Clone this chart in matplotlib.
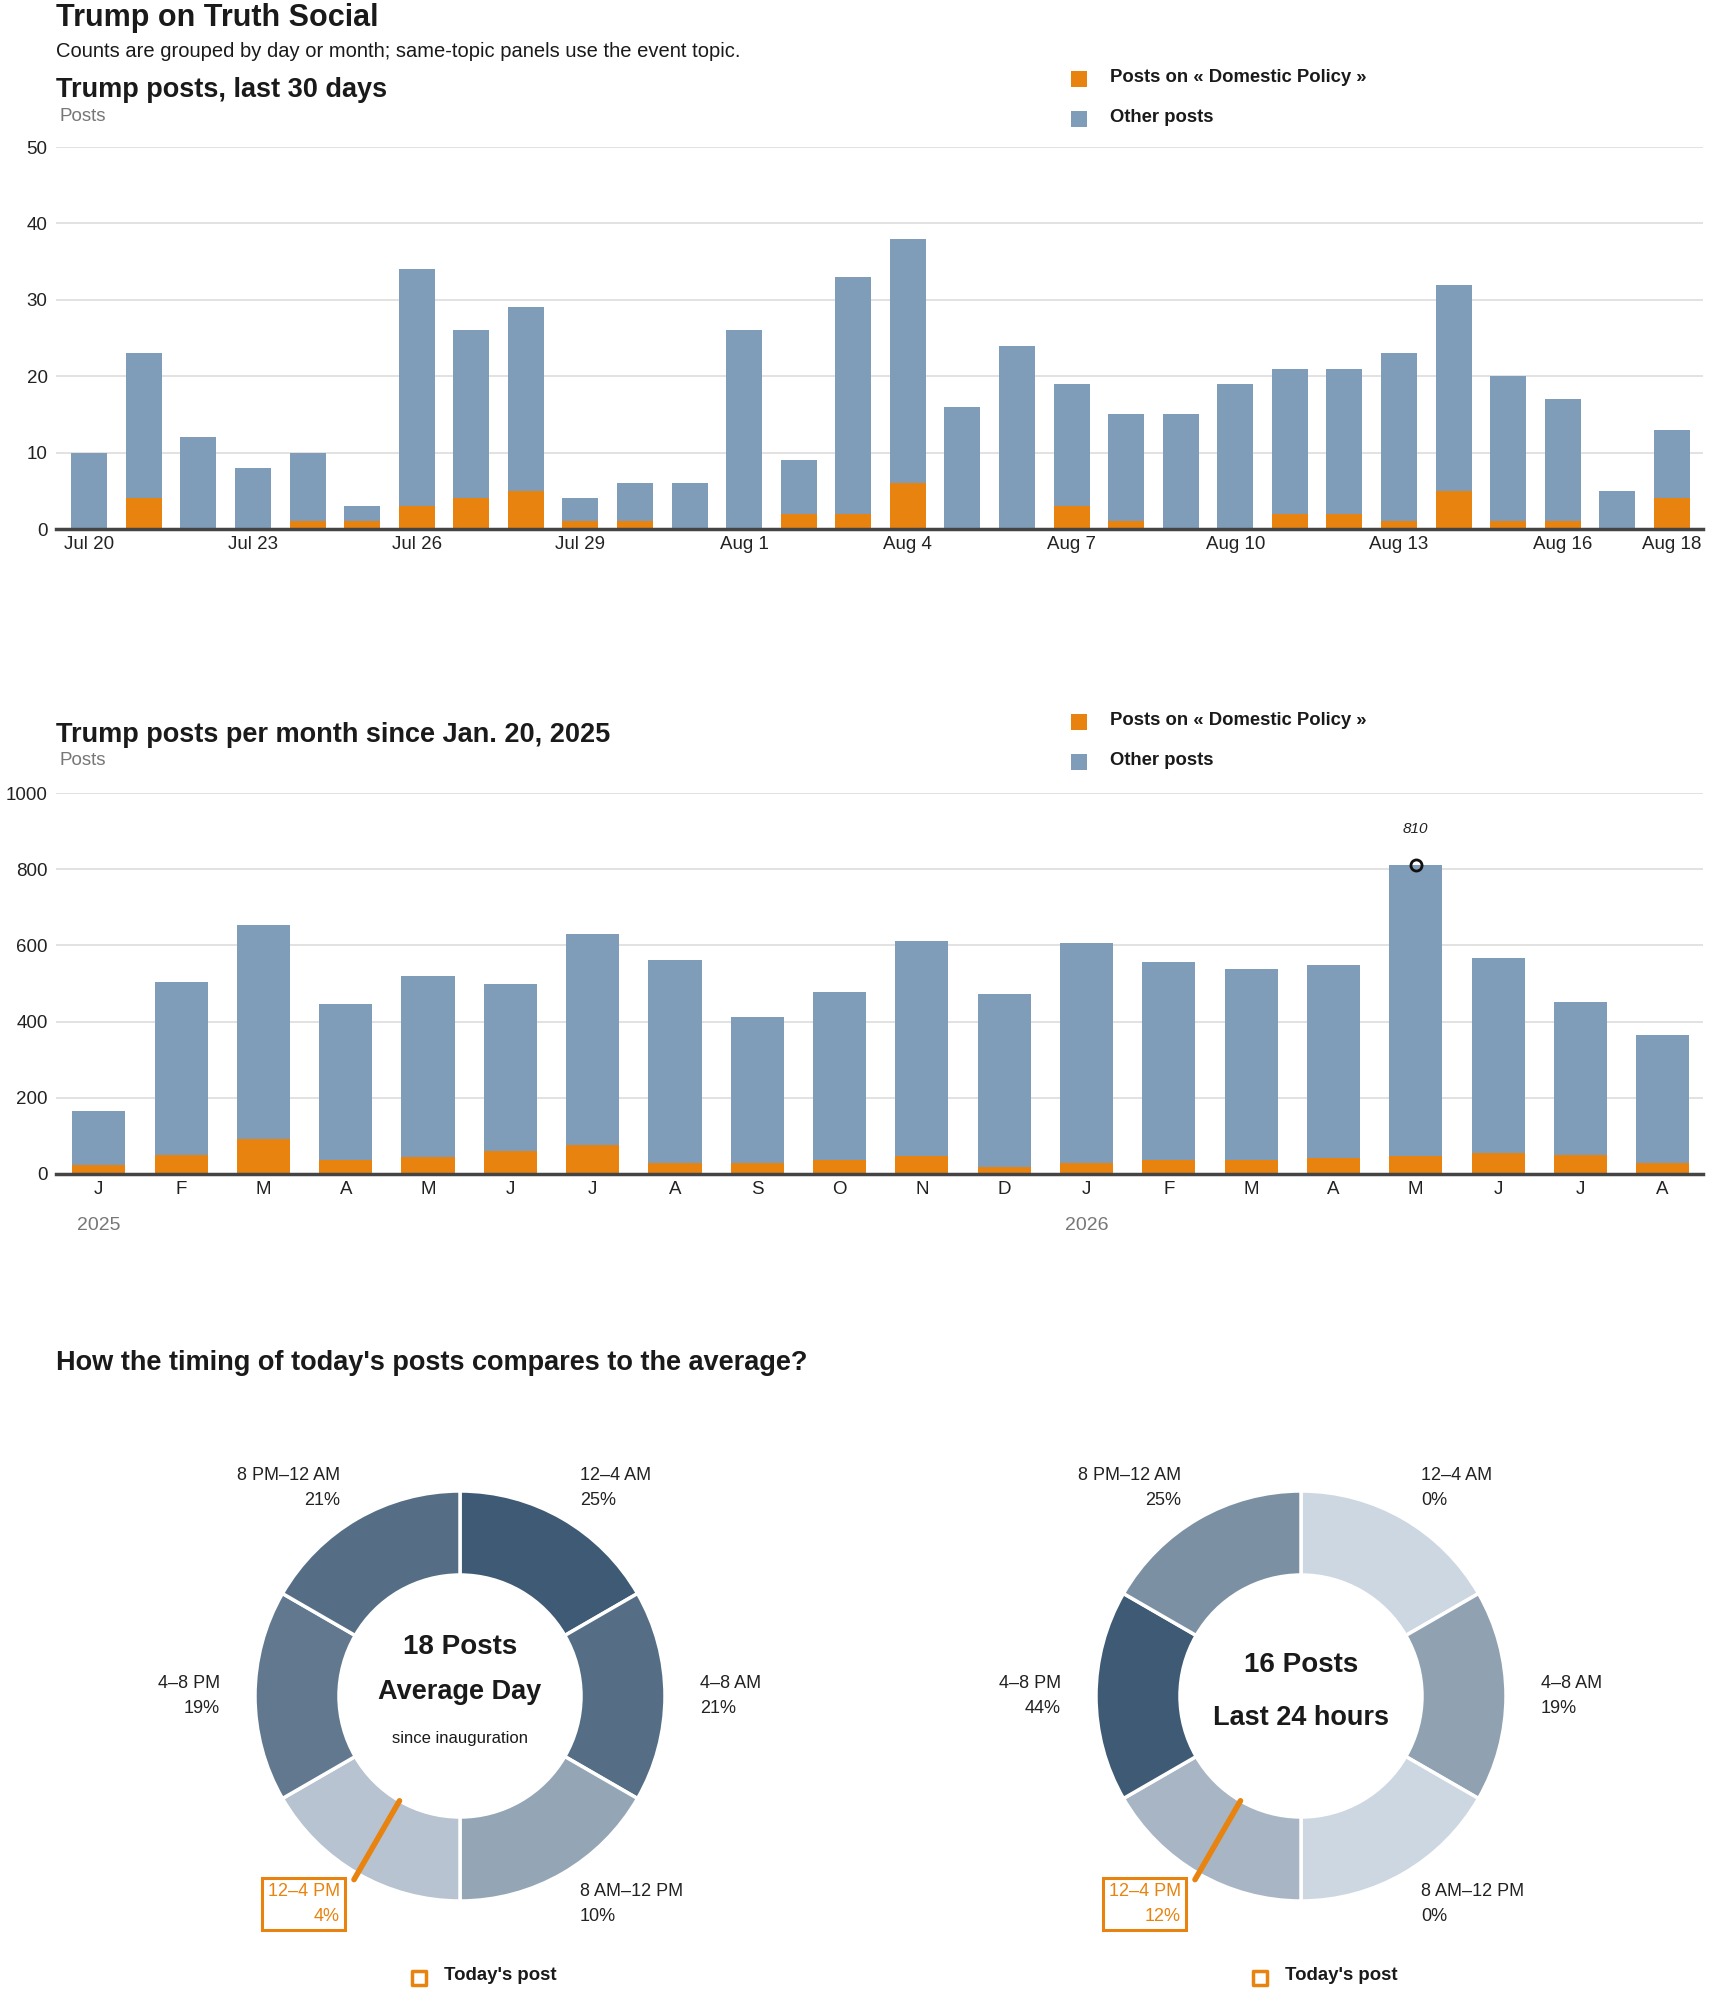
import numpy as np
import matplotlib
matplotlib.use('Agg')
import matplotlib.pyplot as plt
from matplotlib.colors import LinearSegmentedColormap

plt.rcParams['font.family'] = ['Liberation Sans', 'DejaVu Sans']

# ---- data ----
day_total = [10, 23, 12, 8, 10, 3, 34, 26, 29, 4, 6, 6, 26, 9, 33,
             38, 16, 24, 19, 15, 15, 19, 21, 21, 23, 32, 20, 17, 5, 13]
day_domestic = [0, 4, 0, 0, 1, 1, 3, 4, 5, 1, 1, 0, 0, 2, 2,
                6, 0, 0, 3, 1, 0, 0, 2, 2, 1, 5, 1, 1, 0, 4]
day_tick_pos = [0, 3, 6, 9, 12, 15, 18, 21, 24, 27, 29]
day_tick_labels = ['Jul 20', 'Jul 23', 'Jul 26', 'Jul 29', 'Aug 1', 'Aug 4',
                   'Aug 7', 'Aug 10', 'Aug 13', 'Aug 16', 'Aug 18']

month_labels = ['J', 'F', 'M', 'A', 'M', 'J', 'J', 'A', 'S', 'O', 'N', 'D',
                'J', 'F', 'M', 'A', 'M', 'J', 'J', 'A']
month_total = [165, 504, 654, 447, 520, 499, 630, 562, 412, 477, 612, 473,
               607, 556, 538, 549, 810, 568, 451, 365]
month_domestic = [24, 51, 92, 38, 45, 60, 76, 30, 30, 38, 47, 19,
                  30, 38, 38, 43, 47, 56, 51, 30]
year_labels = ['2025', '2026']
year_pos = [0, 12]

slots = ['12–4 AM', '4–8 AM', '8 AM–12 PM', '12–4 PM', '4–8 PM', '8 PM–12 AM']
avg_pct = [25, 21, 10, 4, 19, 21]
today_pct = [0, 19, 0, 12, 44, 25]
avg_posts = 18
today_posts = 16
post_hour = 14

ORANGE = '#e8830f'
BLUE = '#7f9db9'
DARK = '#1a1a1a'
GRAY = '#777777'

W, H = 1710, 1993
fig = plt.figure(figsize=(W / 100, H / 100), dpi=100)


def box(left, top, right, bottom):
    return [left / W, 1 - bottom / H, (right - left) / W, (bottom - top) / H]


def style(ax, ymax, step):
    ax.set_ylim(0, ymax)
    ax.set_yticks(np.arange(0, ymax + 1, step))
    ax.grid(axis='y', color='#dddddd', lw=1.2)
    ax.set_axisbelow(True)
    for s in ['top', 'right', 'left']:
        ax.spines[s].set_visible(False)
    ax.spines['bottom'].set_color('#444444')
    ax.spines['bottom'].set_linewidth(2.5)
    ax.tick_params(length=0, labelsize=13.5, colors='#222222')
    ax.tick_params(axis='y', pad=6)
    ax.tick_params(axis='x', pad=5)


# daily chart
ax1 = fig.add_axes(box(56, 147, 1703, 529))
x = np.arange(len(day_total))
other = np.array(day_total) - np.array(day_domestic)
ax1.bar(x, day_domestic, width=0.66, color=ORANGE)
ax1.bar(x, other, bottom=day_domestic, width=0.66, color=BLUE)
style(ax1, 50, 10)
ax1.set_xlim(-0.61, 29.57)
ax1.set_xticks(day_tick_pos)
ax1.set_xticklabels(day_tick_labels)

# monthly chart
ax2 = fig.add_axes(box(56, 793, 1703, 1174))
m = np.arange(len(month_total))
m_other = np.array(month_total) - np.array(month_domestic)
ax2.bar(m, month_domestic, width=0.645, color=ORANGE)
ax2.bar(m, m_other, bottom=month_domestic, width=0.645, color=BLUE)
style(ax2, 1000, 200)
ax2.set_xlim(-0.52, 19.49)
ax2.set_xticks(m)
ax2.set_xticklabels(month_labels)
pk = int(np.argmax(month_total))
ax2.plot(pk, month_total[pk], 'o', mfc='none', mec='#111111', mew=2, ms=8, clip_on=False)
ax2.annotate(str(month_total[pk]), (pk, month_total[pk]), xytext=(0, 26),
             textcoords='offset points', ha='center', va='center',
             style='italic', fontsize=11, color='#222222')

# overlay in pixel coordinates
ov = fig.add_axes([0, 0, 1, 1])
ov.patch.set_visible(False)


def T(px, py, s, **kw):
    ov.text(px, H - py, s, **kw)


def title(px, py, s, fs):
    T(px, py, s, fontsize=fs, fontweight='bold', color=DARK, va='center')


title(56, 18, 'Trump on Truth Social', 22)
T(56, 51, 'Counts are grouped by day or month; same-topic panels use the event topic.',
  fontsize=14.5, color=DARK, va='center')
title(56, 90, 'Trump posts, last 30 days', 19.5)
T(59, 116, 'Posts', fontsize=13.5, color=GRAY, va='center')
title(56, 735, 'Trump posts per month since Jan. 20, 2025', 19.5)
T(59, 760, 'Posts', fontsize=13.5, color=GRAY, va='center')
for lbl, p in zip(year_labels, year_pos):
    xp = 56 + (p + 0.52) / (19.49 + 0.52) * (1703 - 56)
    T(xp, 1225, lbl, fontsize=14, color=GRAY, ha='center', va='center')

# legends
for ytop in [79, 722]:
    ov.scatter([1079, 1079], [H - ytop, H - ytop - 40], marker='s', s=133,
               c=[ORANGE, BLUE], linewidths=0)
    T(1110, ytop - 2, 'Posts on « Domestic Policy »', fontsize=13.3, fontweight='bold',
      color=DARK, va='center')
    T(1110, ytop + 38, 'Other posts', fontsize=13.3, fontweight='bold',
      color=DARK, va='center')

title(56, 1363, "How the timing of today's posts compares to the average?", 19.5)

cmap = LinearSegmentedColormap.from_list('slate', ['#cdd7e1', '#3f5a75'])
hi = int(post_hour // 4)


def donut(cx, cy, pct, center_lines):
    colors = [cmap(p / max(pct)) for p in pct]
    ov.pie([1] * len(pct), colors=colors, startangle=90, counterclock=False,
           center=(cx, H - cy), radius=205,
           wedgeprops=dict(width=84, edgecolor='white', linewidth=2.5))
    for k, (s, p) in enumerate(zip(slots, pct)):
        th = np.deg2rad((k + 0.5) * 360 / len(pct))
        lx = cx + 240 * np.sin(th)
        ly = cy - 240 * np.cos(th)
        ha = 'left' if np.sin(th) > 0 else 'right'
        kw = dict(fontsize=13, ha=ha, va='center', multialignment=ha, linespacing=1.6)
        if k == hi:
            kw.update(color=ORANGE, bbox=dict(boxstyle='square,pad=0.3', fc='white',
                                              ec=ORANGE, lw=2.2))
        else:
            kw.update(color='#222222')
        T(lx, ly, f'{s}\n{p}%', **kw)
    ang = post_hour / 24 * 2 * np.pi
    r = np.array([121, 212])
    ov.plot(cx + r * np.sin(ang), H - (cy - r * np.cos(ang)), color=ORANGE, lw=4,
            solid_capstyle='round')
    for dy, s, fs, fw in center_lines:
        T(cx, cy + dy, s, fontsize=fs, fontweight=fw, color=DARK, ha='center', va='center')
    # today's post legend
    ov.scatter([cx - 41], [H - 1978], marker='s', s=110, facecolor='white',
               edgecolor=ORANGE, linewidths=2.5)
    T(cx - 16, 1976, "Today's post", fontsize=13.4, fontweight='bold', color=DARK,
      va='center')


donut(460, 1696, avg_pct, [(-49, f'{avg_posts} Posts', 20, 'bold'),
                           (-4, 'Average Day', 19.5, 'bold'),
                           (43, 'since inauguration', 12, 'normal')])
donut(1301, 1696, today_pct, [(-31, f'{today_posts} Posts', 20, 'bold'),
                              (22, 'Last 24 hours', 19.5, 'bold')])

ov.set_xlim(0, W)
ov.set_ylim(0, H)
ov.set_aspect('auto')
ov.axis('off')

fig.savefig('out.png', dpi=100, facecolor='white')
